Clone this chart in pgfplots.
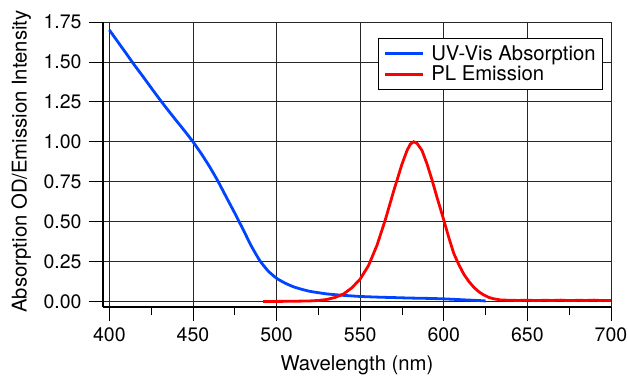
\documentclass[border=0pt]{standalone}
\usepackage{fontspec}
\setmainfont{TeX Gyre Heros}
\usepackage{pgfplots}
\pgfplotsset{compat=1.18}
\definecolor{uvblue}{RGB}{0,68,255}
\definecolor{plred}{RGB}{255,0,0}
\begin{document}
\begin{tikzpicture}
\useasboundingbox (-103bp,-70bp) rectangle (525bp,307bp);
\begin{axis}[
  at={(0,0)}, anchor=south west,
  width=508bp, height=285bp, scale only axis,
  xmin=396.2, xmax=700, ymin=-0.035, ymax=1.75,
  xtick={400,450,...,700}, minor xtick={425,475,...,675},
  ytick={0,0.25,...,1.75},
  /pgf/number format/assume math mode=true,
  yticklabel style={/pgf/number format/fixed, /pgf/number format/fixed zerofill, /pgf/number format/precision=2, xshift=-4bp},
  xticklabel style={yshift=-3bp, /pgf/number format/1000 sep={}},
  ticklabel style={font=\fontsize{19.5bp}{23bp}\selectfont},
  axis x line*=bottom, axis y line*=left,
  axis line style={line width=1.4bp, black, -},
  grid=major, major grid style={black!85, line width=0.7bp},
  tick align=outside, major tick length=14bp, minor tick length=8bp,
  tick style={black, line width=0.8bp},
  xlabel={Wavelength (nm)}, ylabel={Absorption OD/Emission Intensity},
  label style={font=\fontsize{20.3bp}{24bp}\selectfont},
  xlabel style={at={(axis description cs:0.5,-0.2211)}, anchor=base},
  ylabel style={at={(axis description cs:-0.1502,0.5105)}, anchor=base},
  legend style={at={(axis description cs:1,1)}, xshift=-8bp, yshift=-16bp, anchor=north east,
    draw=black, line width=0.8bp, fill=white, font=\fontsize{20.3bp}{24bp}\selectfont,
    inner xsep=5bp, inner ysep=5bp, row sep=0.5bp,
    /tikz/every odd column/.append style={column sep=5bp}},
  legend cell align=left,
  legend image code/.code={\draw[#1, line width=3bp] (0bp,0bp) -- (38bp,0bp);},
]
\addplot[uvblue, line width=2.8bp, smooth, tension=0.3] coordinates {
(400,1.700) (405,1.627) (410,1.554) (415,1.480) (420,1.410) (425,1.338) (430,1.267)
(435,1.199) (440,1.133) (445,1.068) (450,1.000) (455,0.925) (460,0.843)
(465,0.752) (470,0.652) (475,0.553) (480,0.450) (485,0.345) (490,0.255) (495,0.190)
(500,0.145) (505,0.115) (510,0.092) (515,0.076) (520,0.063) (530,0.047) (540,0.038)
(550,0.031) (560,0.027) (570,0.024) (580,0.021) (590,0.019) (600,0.016) (610,0.011)
(620,0.006) (625,0.003)
};
\addlegendentry{UV-Vis Absorption}
\addplot[plred, line width=2.8bp] coordinates {
(492,0.000) (500,0.000) (510,0.001) (520,0.003) (525,0.006) (530,0.012) (535,0.025)
(540,0.046) (545,0.085) (550,0.140) (555,0.225) (560,0.350) (565,0.510) (570,0.690)
(575,0.860) (578,0.945) (580,0.985) (582,1.000) (584,0.990) (587,0.945) (590,0.860)
(593,0.760) (596,0.650) (600,0.510) (603,0.400) (606,0.300) (609,0.230) (612,0.170)
(615,0.125) (618,0.088) (621,0.060) (624,0.040) (627,0.025) (630,0.016) (634,0.009)
(640,0.007) (645,0.006) (650,0.008) (655,0.005) (660,0.007) (665,0.006) (670,0.008)
(675,0.005) (680,0.007) (685,0.006) (690,0.008) (695,0.005) (700,0.006)
};
\addlegendentry{PL Emission}
\end{axis}
\end{tikzpicture}
\end{document}
